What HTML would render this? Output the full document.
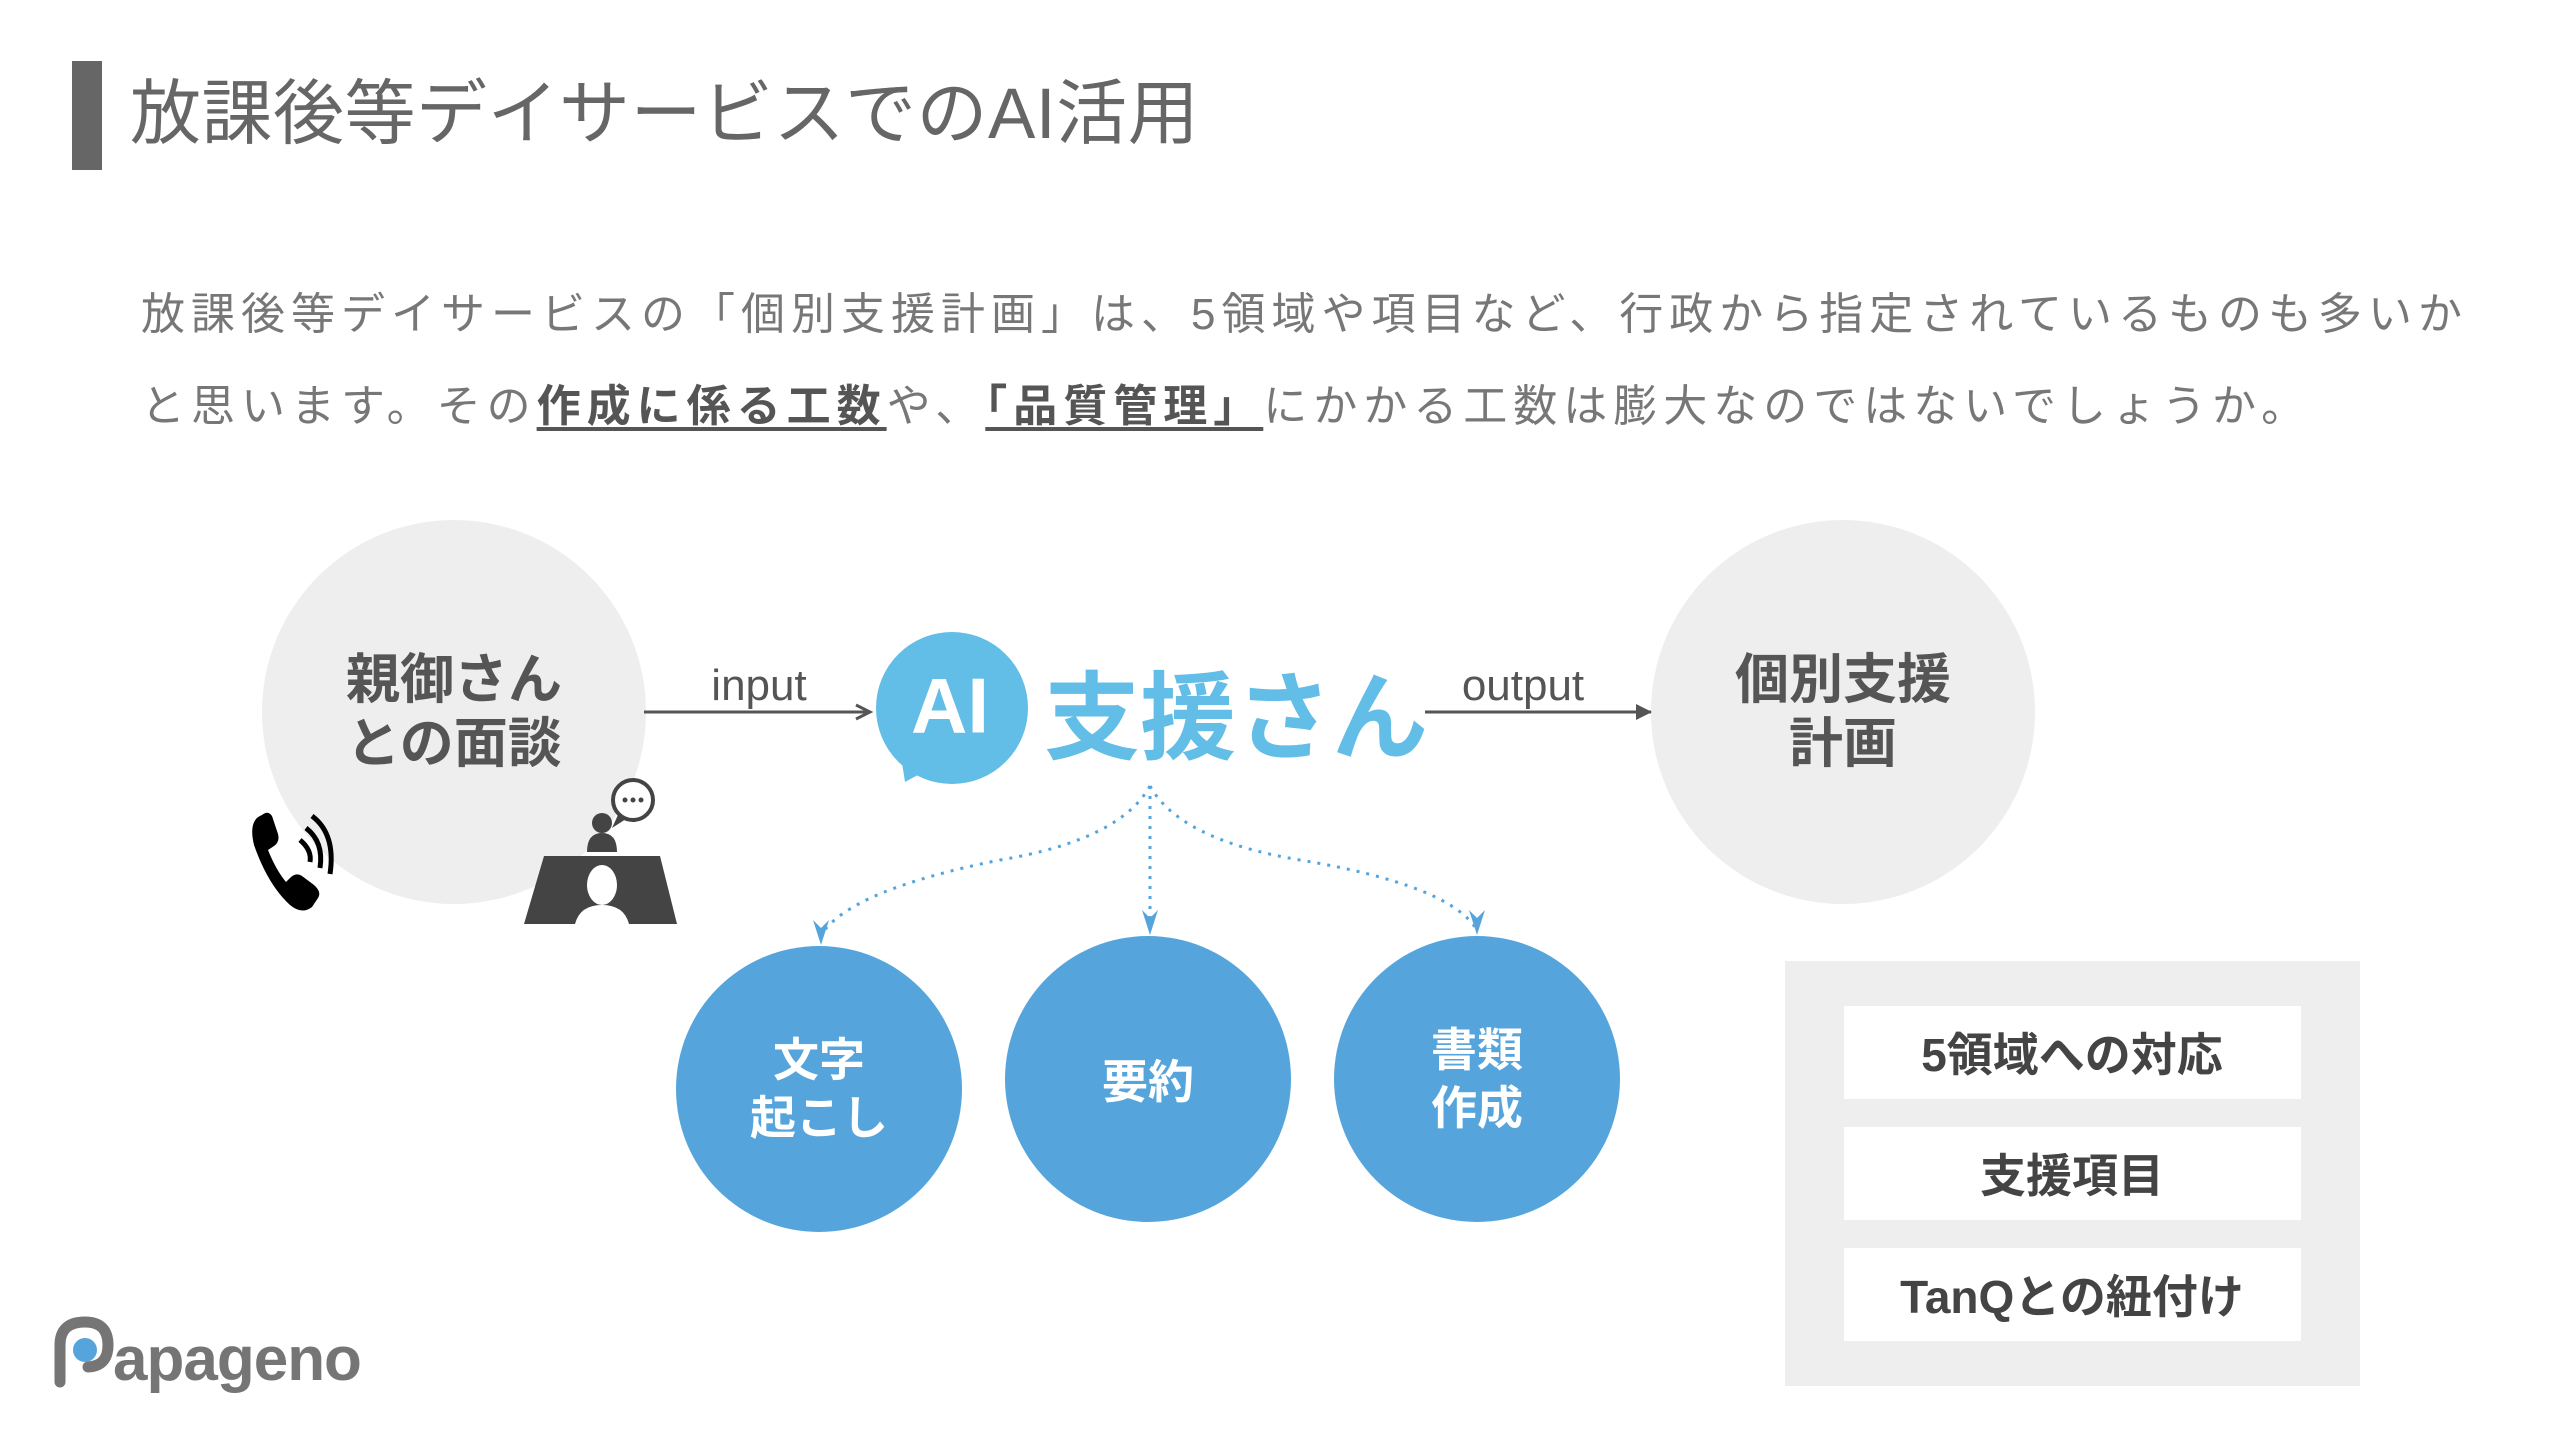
<!DOCTYPE html>
<html><head><meta charset="utf-8"><style>
body{margin:0;width:2568px;height:1440px;background:#fff;position:relative;overflow:hidden;font-family:"Liberation Sans","Noto Sans CJK JP",sans-serif}
.a{position:absolute;white-space:nowrap}
.c{text-align:center;transform:translate(-50%,-50%)}
</style></head><body>
<div class="a" style="left:72px;top:61px;width:30px;height:109px;background:#666"></div>
<div class="a" style="left:130px;top:70px;font-size:71px;color:#666;line-height:90px;letter-spacing:0.5px">放課後等デイサービスでのAI活用</div>
<div class="a" style="left:141px;top:285px;font-size:44px;color:#777;letter-spacing:6px;line-height:60px">放課後等デイサービスの「個別支援計画」は、5領域や項目など、行政から指定されているものも多いか</div>
<div class="a" style="left:141px;top:377px;font-size:44px;color:#777;letter-spacing:6px;line-height:60px">と思います。その<b style="color:#555;text-decoration:underline;text-underline-offset:6px">作成に係る工数</b>や、<b style="color:#555;text-decoration:underline;text-underline-offset:6px">「品質管理」</b>にかかる工数は膨大なのではないでしょうか。</div>
<svg class="a" style="left:0;top:0" width="2568" height="1440">
<circle cx="454" cy="712" r="192" fill="#eeeeee"/>
<circle cx="1843" cy="712" r="192" fill="#eeeeee"/>
<line x1="644" y1="712" x2="868" y2="712" stroke="#555" stroke-width="3"/>
<path d="M856,705L870,712L856,719" fill="none" stroke="#555" stroke-width="3"/>
<line x1="1425" y1="712" x2="1651" y2="712" stroke="#555" stroke-width="3"/>
<path d="M1636,704L1652,712L1636,720z" fill="#555"/>
<circle cx="952" cy="708" r="76" fill="#62bde7"/>
<path d="M900,750L905,782L945,760z" fill="#62bde7"/>
<g stroke="#55a5dc" stroke-width="3" stroke-dasharray="3 7" fill="none">
<path d="M1150,786 Q1120,840 1000,860 Q850,890 821,935"/>
<path d="M1150,786L1150,930"/>
<path d="M1150,786 Q1180,840 1300,860 Q1450,885 1477,930"/>
</g>
<g fill="#55a5dc"><path d="M813,920L821,945L829,920L821,928z"/><path d="M1142,910L1150,935L1158,910L1150,918z"/><path d="M1469,910L1477,935L1485,910L1477,918z"/></g>
<circle cx="819" cy="1089" r="143" fill="#55a5dc"/>
<circle cx="1148" cy="1079" r="143" fill="#55a5dc"/>
<circle cx="1477" cy="1079" r="143" fill="#55a5dc"/>
<rect x="1785" y="961" width="575" height="425" fill="#eeeeee"/>
<rect x="1844" y="1006" width="457" height="93" fill="#fff"/>
<rect x="1844" y="1127" width="457" height="93" fill="#fff"/>
<rect x="1844" y="1248" width="457" height="93" fill="#fff"/>
<path d="M262,815 Q248,820 254,845 Q268,885 290,905 Q302,915 312,907 L318,898 Q322,892 314,885 L302,876 Q296,872 290,878 L286,882 Q276,870 268,850 L274,846 Q280,842 278,834 L272,816 Q268,810 262,815z" fill="#000"/>
<g fill="none" stroke="#000" stroke-width="5"><path d="M300,840 Q312,850 310,862"/><path d="M306,828 Q324,842 320,868"/><path d="M312,816 Q336,834 330,874"/></g>
<circle cx="633" cy="800" r="20" fill="#fff" stroke="#444" stroke-width="4"/>
<circle cx="625" cy="800" r="2.5" fill="#444"/><circle cx="633" cy="800" r="2.5" fill="#444"/><circle cx="641" cy="800" r="2.5" fill="#444"/>
<path d="M618,815L612,828L626,819z" fill="#444"/>
<circle cx="602" cy="823" r="10" fill="#444"/>
<path d="M587,852Q587,833 602,833Q617,833 617,852z" fill="#444"/>
<path d="M544,856L660,856L677,924L524,924z" fill="#444"/>
<ellipse cx="602" cy="885" rx="15" ry="20" fill="#fff"/>
<path d="M575,924Q580,905 602,905Q624,905 629,924z" fill="#fff"/>
<path d="M60,1382L60,1345Q60,1322 85,1322Q108,1322 108,1345Q108,1366 88,1367" fill="none" stroke="#757575" stroke-width="11" stroke-linecap="round"/>
<circle cx="85" cy="1350" r="12" fill="#55a5dc"/>
</svg>
<div class="a" style="left:113px;top:1320px;font-size:62px;font-weight:bold;color:#757575;letter-spacing:-1px;line-height:80px">apageno</div>
<div class="a c" style="left:454px;top:712px;font-size:54px;font-weight:bold;color:#555;line-height:64px">親御さん<br>との面談</div>
<div class="a c" style="left:1843px;top:712px;font-size:54px;font-weight:bold;color:#555;line-height:64px">個別支援<br>計画</div>
<div class="a c" style="left:759px;top:686px;font-size:44px;color:#555">input</div>
<div class="a c" style="left:1523px;top:686px;font-size:44px;color:#555">output</div>
<div class="a c" style="left:950px;top:706px;font-size:78px;font-weight:bold;color:#fff">AI</div>
<div class="a c" style="left:1236px;top:710px;font-size:96px;font-weight:bold;color:#62bde7">支援さん</div>
<div class="a c" style="left:819px;top:1089px;font-size:46px;font-weight:bold;color:#fff;line-height:58px">文字<br>起こし</div>
<div class="a c" style="left:1148px;top:1079px;font-size:46px;font-weight:bold;color:#fff">要約</div>
<div class="a c" style="left:1477px;top:1079px;font-size:46px;font-weight:bold;color:#fff;line-height:58px">書類<br>作成</div>
<div class="a c" style="left:2072px;top:1052px;font-size:46px;font-weight:bold;color:#444">5領域への対応</div>
<div class="a c" style="left:2072px;top:1173px;font-size:46px;font-weight:bold;color:#444">支援項目</div>
<div class="a c" style="left:2072px;top:1294px;font-size:46px;font-weight:bold;color:#444">TanQとの紐付け</div>
</body></html>
